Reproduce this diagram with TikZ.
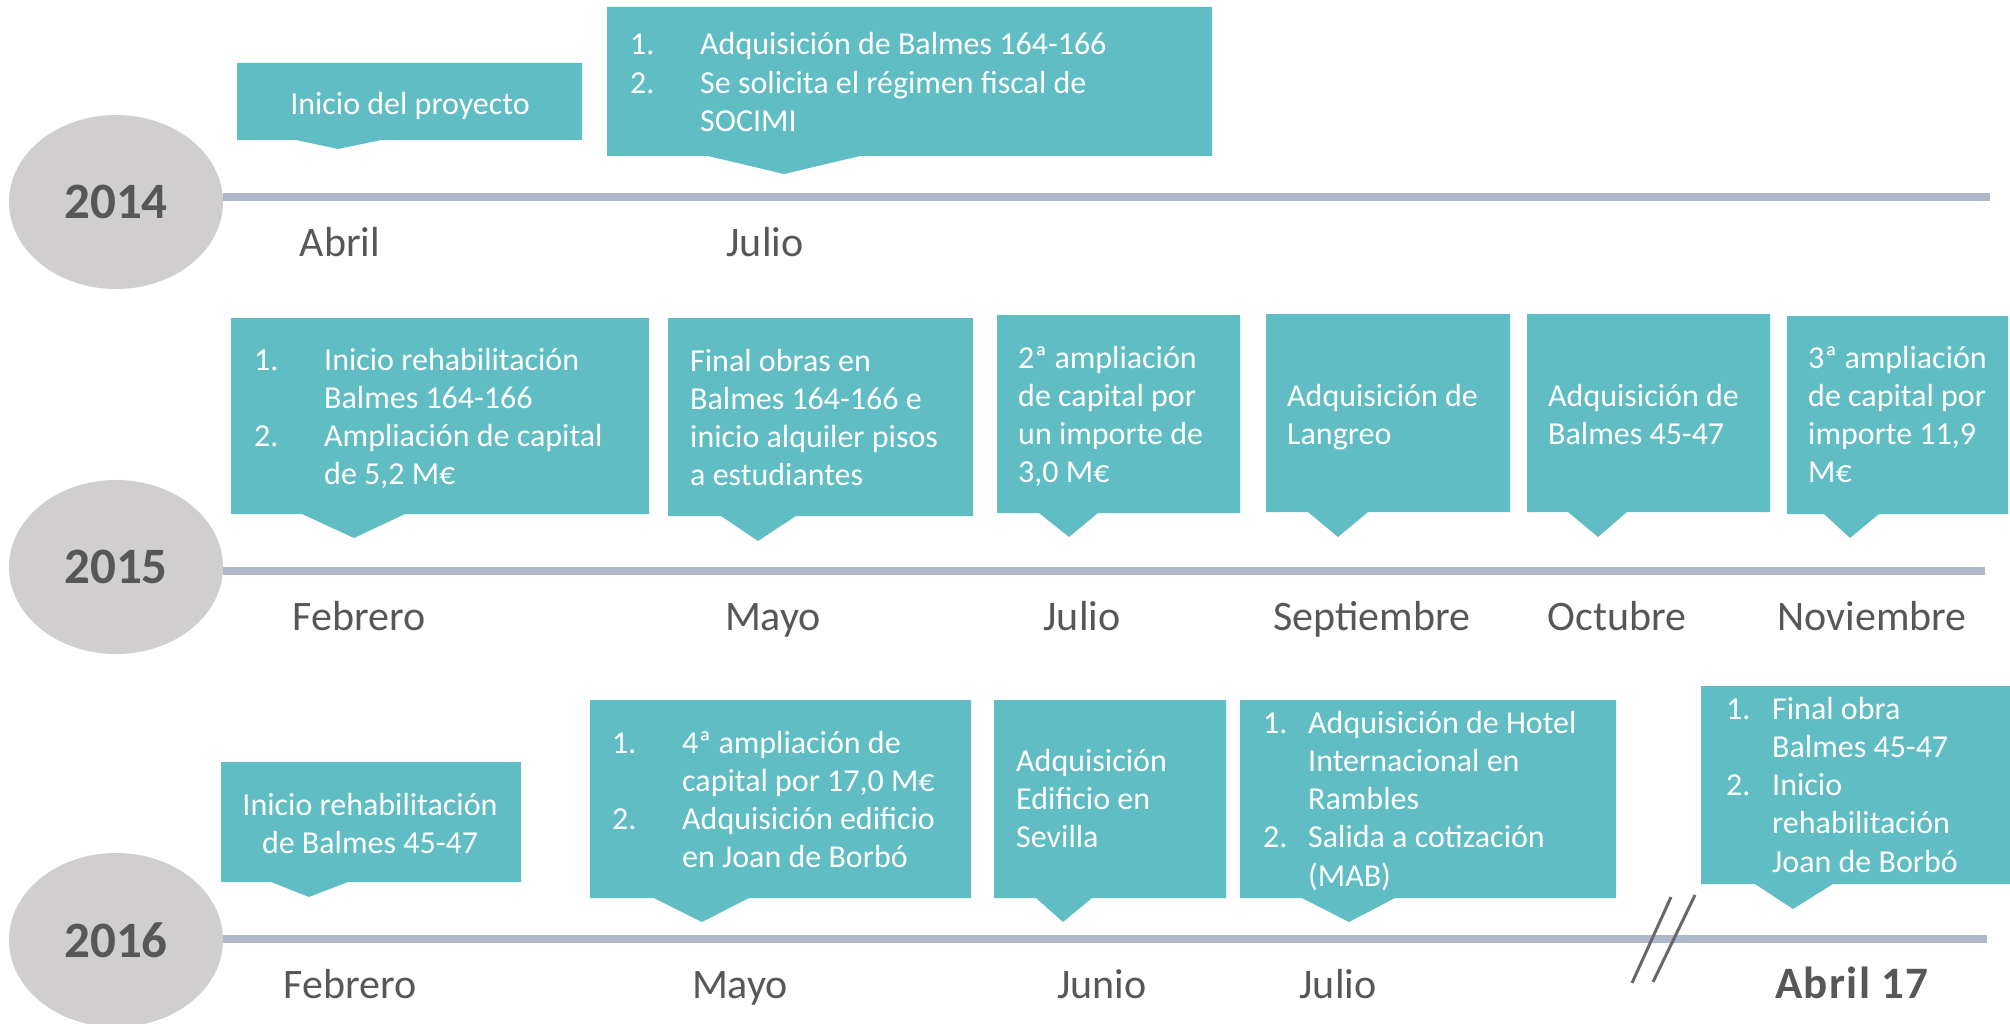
\documentclass[tikz,border=0pt]{standalone}
\usepackage{fontspec}
\setmainfont{Carlito}
\usetikzlibrary{shapes.geometric,calc}
\definecolor{teal1}{HTML}{5FBDC3}
\definecolor{tline}{HTML}{ADB9CA}
\definecolor{ellg}{HTML}{D0CECE}
\definecolor{txtg}{HTML}{575757}
\newcommand{\calloutbox}[8]{%
  \fill[boxfill] (#1,#2) -- (#3,#2) -- (#3,#4) -- (#6,#4) -- (#7,#8) -- (#5,#4) -- (#1,#4) -- cycle;}
\newcommand{\blines}[2]{\begin{tabular}[t]{#1}#2\end{tabular}}
\tikzset{
  boxfill/.style={fill=teal1},
  boxtxt/.style={anchor=base west, inner sep=0pt, text=white, font=\fontsize{32}{38.3}\selectfont},
  boxtxtc/.style={boxtxt, anchor=base},
  monthlbl/.style={anchor=base, inner sep=0pt, text=txtg, font=\fontsize{42}{50}\selectfont},
  yearell/.style={ellipse, fill=ellg, inner sep=0pt, minimum width=214pt, minimum height=174pt, text=txtg, font=\fontsize{51}{60}\selectfont\bfseries},
  tl/.style={draw=tline, line width=8pt},
  brk/.style={draw=txtg!90, line width=3pt}
}
\begin{document}
\begin{tikzpicture}[x=1pt,y=-1pt]
\fill[white] (0,0) rectangle (2010,1024);
\useasboundingbox (0,0) rectangle (2010,1024);

% year ellipses
\node[yearell] (e14) at (116,202) {2014};
\node[yearell] (e15) at (116,567) {2015};
\node[yearell] (e16) at (116,940) {2016};

% timelines
\coordinate (l14) at (1990,197);
\coordinate (l15) at (1985,571);
\coordinate (l16) at (1987,939);
\draw[tl] (e14.east |- l14) -- (l14);
\draw[tl] (e15.east |- l15) -- (l15);
\draw[tl] (e16.east |- l16) -- (l16);

% break marks
\coordinate (ba1) at (1671,897); \coordinate (ba2) at (1632,983);
\coordinate (bb1) at (1695,895); \coordinate (bb2) at (1653,982);
\draw[brk] (ba1) -- (ba2);
\draw[brk] (bb1) -- (bb2);

% callout boxes
\calloutbox{237}{63}{582}{140}{296}{381}{338}{149}
\calloutbox{607}{7}{1212}{156}{708}{860}{784}{174}
\calloutbox{231}{318}{649}{514}{302}{405}{354}{538}
\calloutbox{668}{318}{973}{516}{721}{796}{758}{541}
\calloutbox{997}{315}{1240}{513}{1039}{1098}{1069}{537}
\calloutbox{1266}{314}{1510}{512}{1308}{1368}{1338}{537}
\calloutbox{1527}{314}{1770}{512}{1568}{1627}{1598}{537}
\calloutbox{1787}{316}{2008}{514}{1824}{1879}{1850}{538}
\calloutbox{221}{762}{521}{882}{271}{348}{309}{897}
\calloutbox{590}{700}{971}{898}{654}{749}{702}{922}
\calloutbox{994}{700}{1226}{898}{1036}{1092}{1063}{922}
\calloutbox{1240}{700}{1616}{898}{1302}{1395}{1349}{922}
\calloutbox{1701}{686}{2010}{884}{1755}{1833}{1793}{909}

% box texts
\node[boxtxtc] (t1) at (410,115) {Inicio del proyecto};
\node[boxtxt] (t2) at (630,55) {\blines{@{}p{70pt}@{}l@{}}{1. & Adquisición de Balmes 164-166\\2. & Se solicita el régimen fiscal de\\ & SOCIMI}};
\node[boxtxt] (t3) at (254,370) {\blines{@{}p{70pt}@{}l@{}}{1. & Inicio rehabilitación\\ & Balmes 164-166\\2. & Ampliación de capital\\ & de 5,2 M€}};
\node[boxtxt] (t4) at (690,371) {\blines{@{}l@{}}{Final obras en\\Balmes 164-166 e\\inicio alquiler pisos\\a estudiantes}};
\node[boxtxt] (t5) at (1018,368) {\blines{@{}l@{}}{2ª ampliación\\de capital por\\un importe de\\3,0 M€}};
\node[boxtxt] (t6) at (1287,406) {\blines{@{}l@{}}{Adquisición de\\Langreo}};
\node[boxtxt] (t7) at (1548,406) {\blines{@{}l@{}}{Adquisición de\\Balmes 45-47}};
\node[boxtxt] (t8) at (1808,368) {\blines{@{}l@{}}{3ª ampliación\\de capital por\\importe 11,9\\M€}};
\node[boxtxtc] (t9) at (370,815) {\blines{@{}c@{}}{Inicio rehabilitación\\de Balmes 45-47}};
\node[boxtxt] (t10) at (612,753) {\blines{@{}p{70pt}@{}l@{}}{1. & 4ª ampliación de\\ & capital por 17,0 M€\\2. & Adquisición edificio\\ & en Joan de Borbó}};
\node[boxtxt] (t11) at (1016,771) {\blines{@{}l@{}}{Adquisición\\Edificio en\\Sevilla}};
\node[boxtxt] (t12) at (1263,733) {\blines{@{}p{45pt}@{}l@{}}{1. & Adquisición de Hotel\\ & Internacional en\\ & Rambles\\2. & Salida a cotización\\ & (MAB)}};
\node[boxtxt] (t13) at (1726,719) {\blines{@{}p{46pt}@{}l@{}}{1. & Final obra\\ & Balmes 45-47\\2. & Inicio\\ & rehabilitación\\ & Joan de Borbó}};

% month labels
\node[monthlbl] (m1) at (340,257) {Abril};
\node[monthlbl] (m2) at (765,257) {Julio};
\node[monthlbl] (m3) at (359,630) {Febrero};
\node[monthlbl] (m4) at (773,630) {Mayo};
\node[monthlbl] (m5) at (1082,630) {Julio};
\node[monthlbl] (m6) at (1372,630) {Septiembre};
\node[monthlbl] (m7) at (1617,630) {Octubre};
\node[monthlbl] (m8) at (1872,630) {Noviembre};
\node[monthlbl] (m9) at (350,998) {Febrero};
\node[monthlbl] (m10) at (740,998) {Mayo};
\node[monthlbl] (m11) at (1102,998) {Junio};
\node[monthlbl] (m12) at (1338,998) {Julio};
\node[monthlbl, font=\fontsize{45}{54}\selectfont\bfseries\addfontfeature{LetterSpace=3}] (m13) at (1852,998) {Abril 17};
\end{tikzpicture}
\end{document}
